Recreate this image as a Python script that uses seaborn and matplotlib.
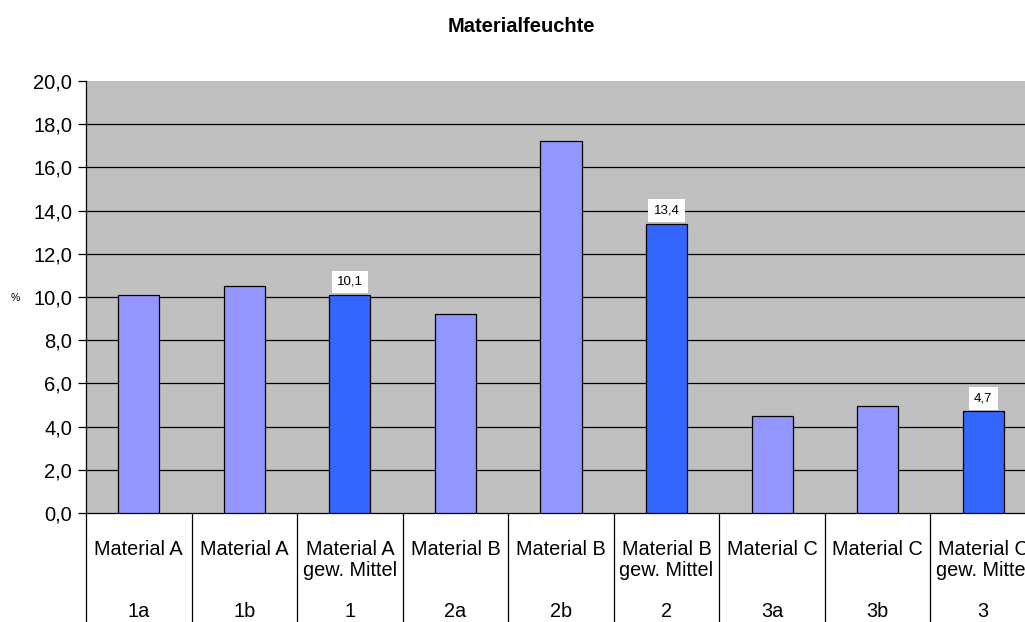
import matplotlib
matplotlib.use("Agg")
import matplotlib.pyplot as plt
from matplotlib.ticker import FuncFormatter, MultipleLocator
import seaborn as sns
import pandas as pd

# Moisture content per sample and weighted means per material
codes = ["1a", "1b", "1", "2a", "2b", "2", "3a", "3b", "3"]
names = ["Material A", "Material A", "Material A\ngew. Mittel",
         "Material B", "Material B", "Material B\ngew. Mittel",
         "Material C", "Material C", "Material C\ngew. Mittel"]
values = [10.1, 10.5, 10.1, 9.2, 17.2, 13.4, 4.5, 4.95, 4.7]
is_mean = [False, False, True, False, False, True, False, False, True]

SAMPLE_COLOR = "#9396FF"
MEAN_COLOR = "#3366FF"

df = pd.DataFrame({"code": codes, "name": names, "value": values})
palette = {c: (MEAN_COLOR if m else SAMPLE_COLOR) for c, m in zip(codes, is_mean)}

sns.set_style("white")
plt.rcParams["font.family"] = ["Liberation Sans", "DejaVu Sans"]
plt.rcParams["text.color"] = "black"
plt.rcParams["ytick.color"] = "black"
plt.rcParams["ytick.labelcolor"] = "black"

fig = plt.figure(figsize=(10.25, 6.22), dpi=100)
ax = fig.add_axes([86 / 1025, 1 - 513 / 622, 950 / 1025, 432 / 622])
ax.set_facecolor("#C0C0C0")

sns.barplot(data=df, x="code", y="value", hue="code", palette=palette,
            order=codes, hue_order=codes, dodge=False, width=0.39,
            saturation=1, edgecolor="black", linewidth=0.9, legend=False,
            ax=ax, zorder=3)

ax.set_ylim(0, 20)
ax.set_xlim(-0.5, len(codes) - 0.5)
ax.yaxis.set_major_locator(MultipleLocator(2))
ax.yaxis.set_major_formatter(FuncFormatter(lambda v, _: f"{v:.1f}".replace(".", ",")))
ax.tick_params(axis="y", direction="out", length=6, width=0.9, color="black",
               labelcolor="black", labelsize=14.5, pad=4, left=True)
ax.tick_params(axis="x", bottom=False, labelbottom=False)
ax.set_xlabel("")
ax.set_ylabel("")
ax.grid(False)
for y in range(2, 20, 2):
    ax.axhline(y, color="black", linewidth=0.9, zorder=1)

for side in ["top", "right"]:
    ax.spines[side].set_visible(False)
ax.spines["left"].set_color("black")
ax.spines["left"].set_linewidth(0.9)
ax.spines["bottom"].set_color("black")
ax.spines["bottom"].set_linewidth(0.9)

# Value labels on the weighted means
for i, (v, m) in enumerate(zip(values, is_mean)):
    if m:
        ax.annotate(f"{v:.1f}".replace(".", ","), xy=(i, v), xytext=(0, 5),
                    textcoords="offset points", ha="center", va="bottom",
                    fontsize=9.5, color="black", zorder=5,
                    bbox=dict(boxstyle="square,pad=0.4", fc="white", ec="none"))

# Two-level category table below the axis
trans = ax.get_xaxis_transform()
for b in range(len(codes) + 1):
    ax.plot([b - 0.5, b - 0.5], [0, -0.26], color="black", linewidth=0.9,
            transform=trans, clip_on=False)
for i, (nm, cd) in enumerate(zip(names, codes)):
    ax.text(i, -0.062, nm, transform=trans, ha="center", va="top",
            fontsize=14.3, linespacing=1.12, color="black")
    ax.text(i, -0.228, cd, transform=trans, ha="center", va="center",
            fontsize=14.3, color="black")

fig.text(15 / 1025, 1 - 298 / 622, "%", ha="center", va="center", fontsize=7.5)
fig.text(521 / 1025, 1 - 26 / 622, "Materialfeuchte", ha="center", va="center",
         fontsize=14.5, fontweight="bold")

fig.savefig("out.png", dpi=100)
